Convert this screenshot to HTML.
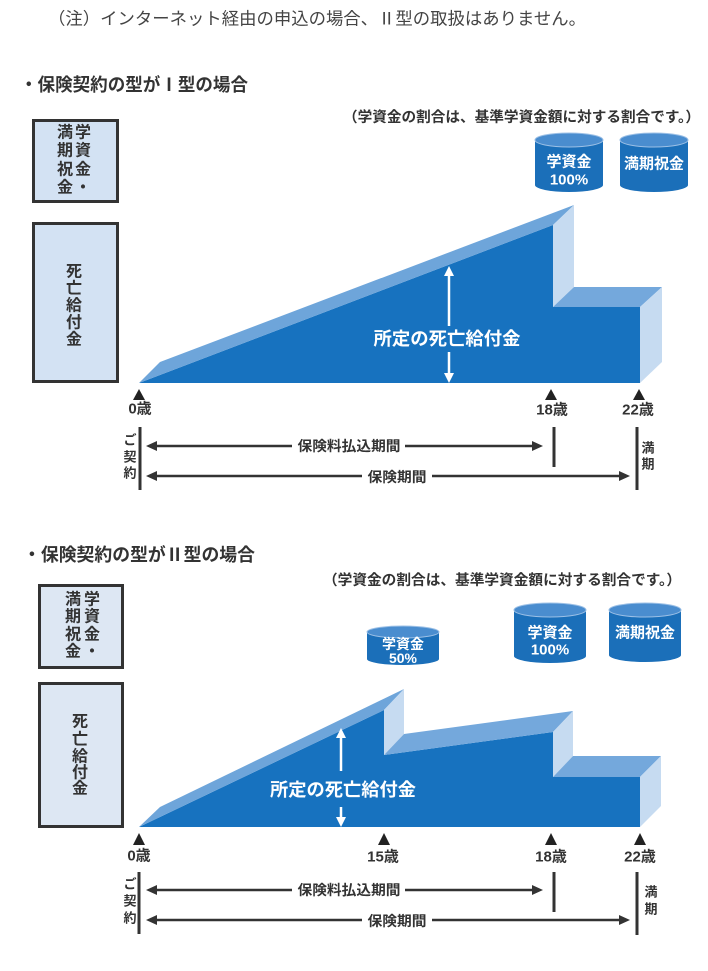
<!DOCTYPE html>
<html><head><meta charset="utf-8"><style>
html,body{margin:0;padding:0;background:#fff;}
svg{display:block;}
text{font-family:"Liberation Sans","Noto Sans CJK JP",sans-serif;}
</style></head><body>
<svg width="708" height="971" viewBox="0 0 708 971" xmlns="http://www.w3.org/2000/svg">
<rect width="708" height="971" fill="#fff"/>

<!-- top note -->
<text x="48" y="19" font-size="17" fill="#444" dominant-baseline="central" textLength="538" lengthAdjust="spacingAndGlyphs">（注）インターネット経由の申込の場合、Ⅱ型の取扱はありません。</text>

<!-- ============ SECTION I ============ -->
<text x="20" y="85" font-size="18" font-weight="bold" fill="#333" dominant-baseline="central" textLength="228" lengthAdjust="spacingAndGlyphs">・保険契約の型がⅠ型の場合</text>
<text x="343" y="118" font-size="14.5" font-weight="bold" fill="#333" dominant-baseline="central" textLength="357" lengthAdjust="spacingAndGlyphs">（学資金の割合は、基準学資金額に対する割合です。）</text>

<!-- boxes I -->
<rect x="33.5" y="120.5" width="84" height="81" fill="#d3e2f3" stroke="#333" stroke-width="3"/>
<g font-size="16" font-weight="bold" fill="#333" text-anchor="middle" dominant-baseline="central">
<text x="83" y="133">学</text><text x="83" y="151">資</text><text x="83" y="170">金</text><text x="83" y="188">・</text>
<text x="65" y="133">満</text><text x="65" y="151">期</text><text x="65" y="170">祝</text><text x="65" y="188">金</text>
</g>
<rect x="33.5" y="223.5" width="84" height="158" fill="#d3e2f3" stroke="#333" stroke-width="3"/>
<g font-size="16" font-weight="bold" fill="#333" text-anchor="middle" dominant-baseline="central">
<text x="74" y="272">死</text><text x="74" y="289">亡</text><text x="74" y="306">給</text><text x="74" y="323">付</text><text x="74" y="340">金</text>
</g>

<!-- cylinders I -->
<g>
<path d="M535,140 L535,185 A34,7 0 0 0 603,185 L603,140 Z" fill="#1b6fb9"/>
<ellipse cx="569" cy="140" rx="34" ry="7" fill="#4a8dcf" stroke="#9cc0e6" stroke-width="1"/>
<path d="M620,140 L620,185 A34,7 0 0 0 688,185 L688,140 Z" fill="#1b6fb9"/>
<ellipse cx="654" cy="140" rx="34" ry="7" fill="#4a8dcf" stroke="#9cc0e6" stroke-width="1"/>
<g font-size="15" font-weight="bold" fill="#fff" text-anchor="middle" dominant-baseline="central">
<text x="569" y="162">学資金</text><text x="569" y="180">100%</text>
<text x="654" y="164">満期祝金</text>
</g>
</g>

<!-- 3D shape I -->
<polygon points="139,383 553,225 553,307 640,307 640,383" fill="#1772bf"/>
<polygon points="139,383 160,362 574,205 553,225" fill="#6ea5da"/>
<polygon points="553,225 574,205 574,287 553,307" fill="#c6dbf1"/>
<polygon points="553,307 574,287 662,287 640,307" fill="#74a8dc"/>
<polygon points="640,307 662,287 662,362 640,383" fill="#c6dbf1"/>

<!-- white arrow I -->
<line x1="449" y1="272" x2="449" y2="326" stroke="#fff" stroke-width="2.5"/>
<line x1="449" y1="352" x2="449" y2="377" stroke="#fff" stroke-width="2.5"/>
<polygon points="449,266 444,276 454,276" fill="#fff"/>
<polygon points="449,383 444,373 454,373" fill="#fff"/>
<text x="447" y="339" font-size="18" font-weight="bold" fill="#fff" text-anchor="middle" dominant-baseline="central" textLength="147" lengthAdjust="spacingAndGlyphs">所定の死亡給付金</text>

<!-- markers I -->
<g fill="#222">
<polygon points="139,389 133,400 145,400"/>
<polygon points="551,389 545,400 557,400"/>
<polygon points="639,389 633,400 645,400"/>
</g>
<g font-size="15" font-weight="bold" fill="#333" text-anchor="middle" dominant-baseline="central">
<text x="140" y="409">0歳</text>
<text x="552" y="410">18歳</text>
<text x="638" y="410">22歳</text>
</g>

<!-- timeline I -->
<g stroke="#333" stroke-width="3">
<line x1="140" y1="427" x2="140" y2="490"/>
<line x1="554" y1="427" x2="554" y2="467"/>
<line x1="637" y1="427" x2="637" y2="490"/>
</g>
<g stroke="#333" stroke-width="2.5">
<line x1="155" y1="446" x2="292" y2="446"/>
<line x1="405" y1="446" x2="533" y2="446"/>
<line x1="155" y1="476" x2="362" y2="476"/>
<line x1="432" y1="476" x2="620" y2="476"/>
</g>
<g fill="#333">
<polygon points="146,446 157,441 157,451"/>
<polygon points="543,446 532,441 532,451"/>
<polygon points="146,476 157,471 157,481"/>
<polygon points="630,476 619,471 619,481"/>
</g>
<g font-size="14" font-weight="bold" fill="#333" text-anchor="middle" dominant-baseline="central">
<text x="349" y="446" textLength="103" lengthAdjust="spacingAndGlyphs">保険料払込期間</text>
<text x="397" y="477" textLength="59" lengthAdjust="spacingAndGlyphs">保険期間</text>
</g>
<g font-size="13" font-weight="bold" fill="#333" text-anchor="middle" dominant-baseline="central">
<text x="130" y="440">ご</text>
<text x="130" y="457">契</text><text x="130" y="473">約</text>
<text x="648" y="448">満</text><text x="648" y="464">期</text>
</g>

<!-- ============ SECTION II ============ -->
<text x="23" y="555" font-size="18" font-weight="bold" fill="#333" dominant-baseline="central" textLength="232" lengthAdjust="spacingAndGlyphs">・保険契約の型がⅡ型の場合</text>
<text x="323" y="581" font-size="14.5" font-weight="bold" fill="#333" dominant-baseline="central" textLength="358" lengthAdjust="spacingAndGlyphs">（学資金の割合は、基準学資金額に対する割合です。）</text>

<!-- boxes II -->
<rect x="39.5" y="585.5" width="83" height="82" fill="#dde7f3" stroke="#333" stroke-width="3"/>
<g font-size="16" font-weight="bold" fill="#333" text-anchor="middle" dominant-baseline="central">
<text x="92" y="600">学</text><text x="92" y="617">資</text><text x="92" y="635">金</text><text x="92" y="652">・</text>
<text x="73" y="600">満</text><text x="73" y="617">期</text><text x="73" y="635">祝</text><text x="73" y="652">金</text>
</g>
<rect x="39.5" y="683.5" width="83" height="143" fill="#dde7f3" stroke="#333" stroke-width="3"/>
<g font-size="16" font-weight="bold" fill="#333" text-anchor="middle" dominant-baseline="central">
<text x="80" y="722">死</text><text x="80" y="740">亡</text><text x="80" y="757">給</text><text x="80" y="773">付</text><text x="80" y="789">金</text>
</g>

<!-- cylinders II -->
<path d="M367,632 L367,659 A36,6 0 0 0 439,659 L439,632 Z" fill="#1b6fb9"/>
<ellipse cx="403" cy="632" rx="36" ry="6" fill="#4a8dcf" stroke="#9cc0e6" stroke-width="1"/>
<path d="M514,610 L514,656 A36,7 0 0 0 586,656 L586,610 Z" fill="#1b6fb9"/>
<ellipse cx="550" cy="610" rx="36" ry="7" fill="#4a8dcf" stroke="#9cc0e6" stroke-width="1"/>
<path d="M609,610 L609,655 A36,7 0 0 0 681,655 L681,610 Z" fill="#1b6fb9"/>
<ellipse cx="645" cy="610" rx="36" ry="7" fill="#4a8dcf" stroke="#9cc0e6" stroke-width="1"/>
<g font-weight="bold" fill="#fff" text-anchor="middle" dominant-baseline="central">
<text x="403" y="644" font-size="14">学資金</text><text x="403" y="658" font-size="14">50%</text>
<text x="550" y="633" font-size="15">学資金</text><text x="550" y="650" font-size="15">100%</text>
<text x="645" y="633" font-size="15">満期祝金</text>
</g>

<!-- 3D shape II -->
<polygon points="139,827 384,710 384,755 553,732 553,777 640,777 640,827" fill="#1772bf"/>
<polygon points="139,827 160,807 404,689 384,710" fill="#6ea5da"/>
<polygon points="384,710 404,689 404,734 384,755" fill="#c6dbf1"/>
<polygon points="384,755 404,734 573,711 553,732" fill="#74a8dc"/>
<polygon points="553,732 573,711 573,756 553,777" fill="#c6dbf1"/>
<polygon points="553,777 573,756 661,756 640,777" fill="#74a8dc"/>
<polygon points="640,777 661,756 661,806 640,827" fill="#c6dbf1"/>

<!-- white arrow II -->
<line x1="341" y1="734" x2="341" y2="771" stroke="#fff" stroke-width="2.5"/>
<line x1="341" y1="807" x2="341" y2="821" stroke="#fff" stroke-width="2.5"/>
<polygon points="341,728 336,738 346,738" fill="#fff"/>
<polygon points="341,827 336,817 346,817" fill="#fff"/>
<text x="343" y="790" font-size="18" font-weight="bold" fill="#fff" text-anchor="middle" dominant-baseline="central" textLength="146" lengthAdjust="spacingAndGlyphs">所定の死亡給付金</text>

<!-- markers II -->
<g fill="#222">
<polygon points="139,833 133,845 145,845"/>
<polygon points="384,833 378,845 390,845"/>
<polygon points="551,833 545,845 557,845"/>
<polygon points="640,833 634,845 646,845"/>
</g>
<g font-size="15" font-weight="bold" fill="#333" text-anchor="middle" dominant-baseline="central">
<text x="139" y="856">0歳</text>
<text x="383" y="857">15歳</text>
<text x="551" y="857">18歳</text>
<text x="640" y="857">22歳</text>
</g>

<!-- timeline II -->
<g stroke="#333" stroke-width="3">
<line x1="139" y1="872" x2="139" y2="934"/>
<line x1="554" y1="872" x2="554" y2="912"/>
<line x1="637" y1="872" x2="637" y2="935"/>
</g>
<g stroke="#333" stroke-width="2.5">
<line x1="155" y1="890" x2="292" y2="890"/>
<line x1="405" y1="890" x2="533" y2="890"/>
<line x1="155" y1="920" x2="362" y2="920"/>
<line x1="432" y1="920" x2="620" y2="920"/>
</g>
<g fill="#333">
<polygon points="146,890 157,885 157,895"/>
<polygon points="543,890 532,885 532,895"/>
<polygon points="146,920 157,915 157,925"/>
<polygon points="630,920 619,915 619,925"/>
</g>
<g font-size="14" font-weight="bold" fill="#333" text-anchor="middle" dominant-baseline="central">
<text x="349" y="890" textLength="103" lengthAdjust="spacingAndGlyphs">保険料払込期間</text>
<text x="397" y="921" textLength="59" lengthAdjust="spacingAndGlyphs">保険期間</text>
</g>
<g font-size="13" font-weight="bold" fill="#333" text-anchor="middle" dominant-baseline="central">
<text x="130" y="884">ご</text>
<text x="130" y="901">契</text><text x="130" y="918">約</text>
<text x="651" y="892">満</text><text x="651" y="909">期</text>
</g>
</svg>
</body></html>
